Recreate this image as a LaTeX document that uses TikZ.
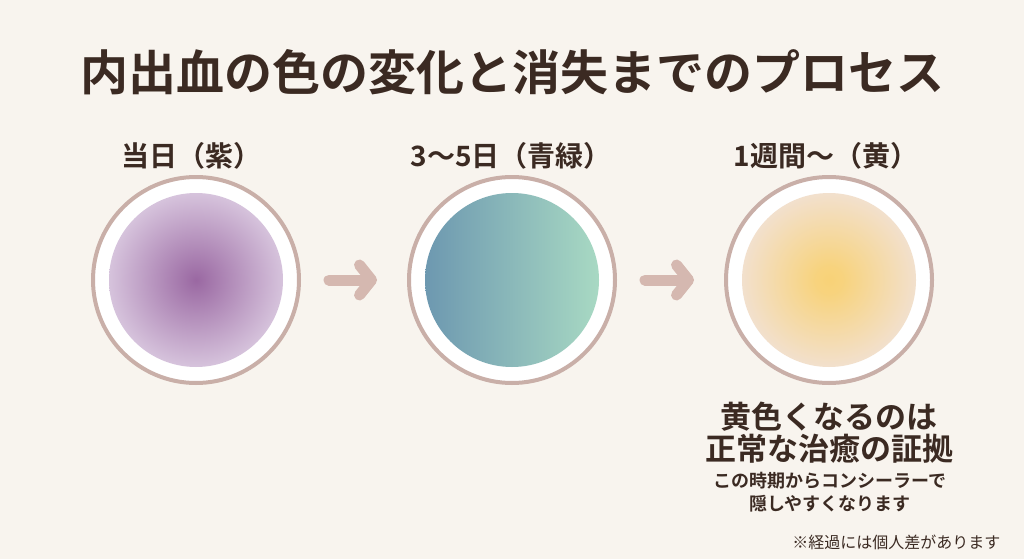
\documentclass[tikz,border=0pt]{standalone}
\usepackage{fontspec}
\setmainfont{Noto Sans CJK JP}[BoldFont={Noto Sans CJK JP Bold}]
\usetikzlibrary{arrows.meta}
\definecolor{bgcream}{HTML}{F8F4EE}
\definecolor{inkbrown}{HTML}{3B2A22}
\definecolor{ringrose}{HTML}{C9AFA8}
\definecolor{arrowrose}{HTML}{D5B8B0}
\definecolor{violetin}{HTML}{9A68A2}
\definecolor{violetout}{HTML}{D6C3DC}
\definecolor{tealleft}{HTML}{6D98B0}
\definecolor{tealright}{HTML}{A8D9C3}
\definecolor{amberin}{HTML}{F8D277}
\definecolor{amberout}{HTML}{F2E0CD}
\pgfdeclareradialshading{bruiseviolet}{\pgfpoint{0bp}{0bp}}{color(0bp)=(violetin); color(25bp)=(violetout); color(50bp)=(violetout)}
\pgfdeclareradialshading{bruiseamber}{\pgfpoint{0bp}{0bp}}{color(0bp)=(amberin); color(4bp)=(amberin!92!amberout); color(25bp)=(amberout); color(50bp)=(amberout)}
\tikzset{
  ring/.style={circle,draw=ringrose,line width=4pt,fill=white,minimum size=206pt,inner sep=0pt},
  disc/.style={circle,minimum size=174pt,inner sep=0pt},
  daylabel/.style={text=inkbrown,font=\bfseries\fontsize{28}{30}\selectfont},
  flowarrow/.style={draw=arrowrose,line width=11pt,line cap=round,
    -{Straight Barb[length=12pt,width=30pt,round]},shorten <=28pt,shorten >=30pt}
}
\begin{document}
\begin{tikzpicture}[x=1pt,y=-1pt]
\useasboundingbox (0,0) rectangle (1024,559);
\fill[bgcream] (0,0) rectangle (1024,559);
\node[text=inkbrown,font=\bfseries\fontsize{48}{50}\selectfont] (title) at (512,72) {内出血の色の変化と消失までのプロセス};
% three stages
\node[ring] (ring1) at (196,280) {};
\node[ring] (ring2) at (512,280) {};
\node[ring] (ring3) at (829,280) {};
\node[disc,shading=bruiseviolet] (disc1) at (ring1) {};
\node[disc,left color=tealleft,right color=tealright] (disc2) at (ring2) {};
\node[disc,shading=bruiseamber] (disc3) at (ring3) {};
\node[daylabel] (day1) at (191,156) {当日（紫）};
\node[daylabel] (day2) at (511,156) {3〜5日（青緑）};
\node[daylabel] (day3) at (826,156) {1週間〜（黄）};
\draw[flowarrow] (ring1) -- (ring2);
\draw[flowarrow] (ring2) -- (ring3);
% note under the last stage
\node[text=inkbrown,align=center,font=\bfseries\fontsize{31}{32}\selectfont] (heal) at (829,433) {黄色くなるのは\\正常な治癒の証拠};
\node[text=inkbrown,align=center,font=\bfseries\fontsize{18}{23}\selectfont] (conceal) at (830,492) {この時期からコンシーラーで\\隠しやすくなります};
\node[text=inkbrown,anchor=east,font=\fontsize{16}{18}\selectfont] (caveat) at (1004,542) {※経過には個人差があります};
\end{tikzpicture}
\end{document}
